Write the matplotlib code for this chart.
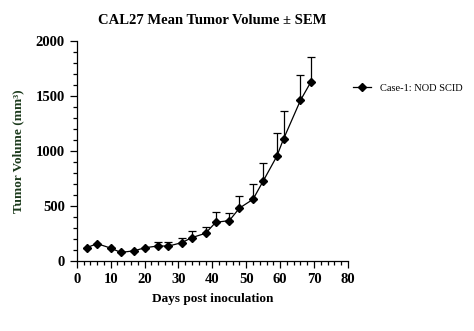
import numpy as np
import matplotlib
matplotlib.use('Agg')
import matplotlib.pyplot as plt
from matplotlib.lines import Line2D
from matplotlib.ticker import MultipleLocator

plt.rcParams['font.family'] = ['Liberation Serif', 'DejaVu Serif']

# data
days = [3, 6, 10, 13, 17, 20, 24, 27, 31, 34, 38, 41, 45, 48, 52, 55, 59, 61, 66, 69]
mean = [122, 158, 117, 78, 93, 120, 137, 135, 167, 213, 252, 352, 367, 481, 561, 727, 951, 1109, 1461, 1624]
upper = [122, 158, 117, 78, 93, 120, 172, 176, 213, 275, 312, 450, 432, 590, 697, 888, 1161, 1367, 1691, 1852]
sem = np.array(upper) - np.array(mean)
series_name = 'Case-1: NOD SCID'

fig = plt.figure(figsize=(4.74, 3.31), dpi=100)
ax = fig.add_axes([0.162, 0.2115, 0.572, 0.6645])

ax.errorbar(days, mean, yerr=[np.zeros(len(sem)), sem], color='black', lw=0.9,
            marker='D', markersize=4.5, capsize=3, elinewidth=0.9, capthick=0.9)

ax.set_xlim(0, 80)
ax.set_ylim(0, 2000)
ax.xaxis.set_major_locator(MultipleLocator(10))
ax.xaxis.set_minor_locator(MultipleLocator(2))
ax.yaxis.set_major_locator(MultipleLocator(500))
ax.yaxis.set_minor_locator(MultipleLocator(100))

for s in ['top', 'right']:
    ax.spines[s].set_visible(False)
for s in ['left', 'bottom']:
    ax.spines[s].set_linewidth(0.9)
ax.tick_params(which='major', direction='out', length=5, width=0.9)
ax.tick_params(which='minor', direction='out', length=3, width=0.9)
for lbl in ax.get_xticklabels() + ax.get_yticklabels():
    lbl.set_fontweight('bold')
    lbl.set_fontsize(10.5)

ax.set_title('CAL27 Mean Tumor Volume \u00b1 SEM', fontsize=10.5, fontweight='bold', pad=12)
ax.set_xlabel('Days post inoculation', fontsize=9.5, fontweight='bold', labelpad=5)
ax.set_ylabel('Tumor Volume (mm\u00b3)', fontsize=9.5, fontweight='bold', color='#1c3a1c', labelpad=8)

handle = Line2D([], [], color='black', lw=0.9, marker='D', markersize=4.5)
ax.legend([handle], [series_name], loc='center left', bbox_to_anchor=(0.985, 0.785),
          frameon=False, fontsize=7.5, handlelength=1.7, handletextpad=0.9)

fig.savefig('out.png', dpi=100)
